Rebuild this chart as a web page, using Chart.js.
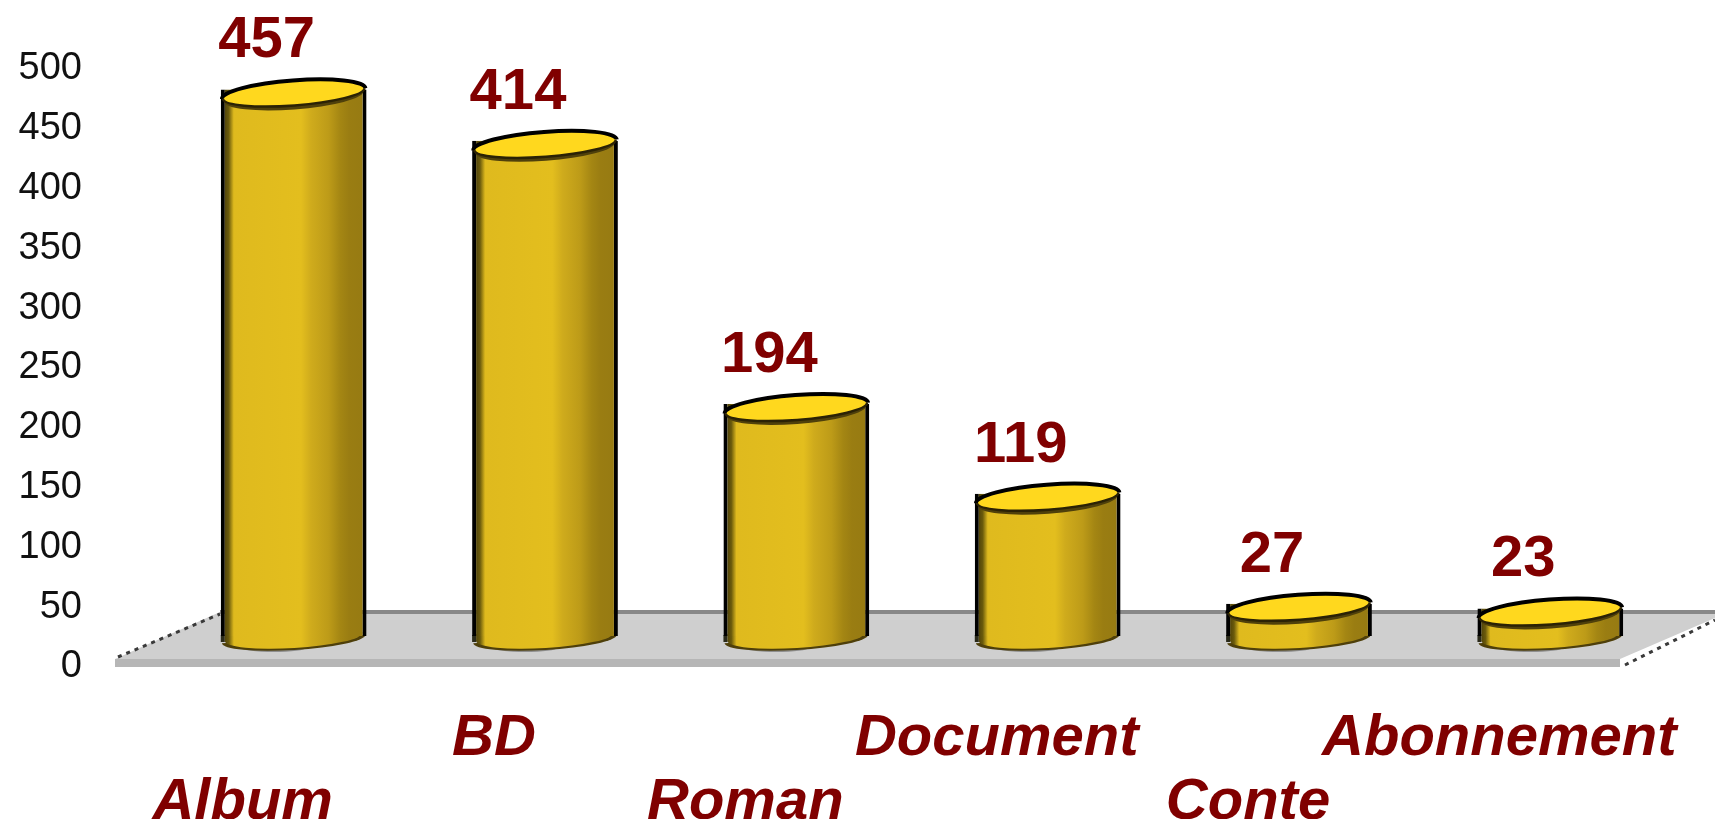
<!DOCTYPE html>
<html>
<head>
<meta charset="utf-8">
<title>Chart</title>
<script src="https://cdn.jsdelivr.net/npm/chart.js@4"></script>
<style>
  html, body { margin: 0; padding: 0; background: #fff; overflow: hidden; }
  canvas { display: block; }
</style>
</head>
<body>
<canvas id="chart" width="1715" height="819"></canvas>
<script>
// Staggered category labels, the empty line pushes every other one down
const categories = [
  ['', 'Album'],
  ['BD', ''],
  ['', 'Roman'],
  ['Document', ''],
  ['', 'Conte'],
  ['Abonnement', ''],
];
const values = [457, 414, 194, 119, 27, 23];
const tickValues = [0, 50, 100, 150, 200, 250, 300, 350, 400, 450, 500];

// Fake 3D look: bars sit on a floor that is pushed back from the axis
const depthX = 51;
const depthY = -31;
const darkRed = '#800000';

function bodyGradient(ctx, left, right) {
  const g = ctx.createLinearGradient(left, 0, right, 0);
  g.addColorStop(0, '#3a2f06');
  g.addColorStop(0.055, '#6a5a0c');
  g.addColorStop(0.09, '#dfba1e');
  g.addColorStop(0.55, '#e3be1e');
  g.addColorStop(0.62, '#cfab1c');
  g.addColorStop(0.74, '#bd9b18');
  g.addColorStop(0.82, '#a48613');
  g.addColorStop(0.88, '#9a7d12');
  g.addColorStop(1, '#967a12');
  return g;
}

const cylinderPlugin = {
  id: 'cylinders',
  beforeDatasetsDraw(chart) {
    // floor
    const ctx = chart.ctx;
    const area = chart.chartArea;
    const y0 = chart.scales.y.getPixelForValue(0);
    const left = area.left - 2;
    const right = area.right - 5;
    const back = y0 - 55;
    const front = y0 - 8;
    ctx.save();
    ctx.fillStyle = '#cfcfcf';
    ctx.beginPath();
    ctx.moveTo(left, front);
    ctx.lineTo(left + 105, back);
    ctx.lineTo(chart.width, back);
    ctx.lineTo(chart.width, back + 6);
    ctx.lineTo(right, front);
    ctx.closePath();
    ctx.fill();
    ctx.fillStyle = '#b6b6b6';
    ctx.fillRect(left, front, right - left, 8);
    ctx.fillStyle = '#888888';
    ctx.fillRect(left + 105, back - 2, chart.width - left - 105, 4);
    ctx.strokeStyle = '#3a3a3a';
    ctx.lineWidth = 3;
    ctx.setLineDash([4, 5]);
    ctx.beginPath();
    ctx.moveTo(left + 3, front - 2);
    ctx.lineTo(left + 105, back + 2);
    ctx.moveTo(right + 5, front + 6);
    ctx.lineTo(chart.width, back + 8);
    ctx.stroke();
    ctx.restore();
  },
  beforeDatasetDraw(chart, args) {
    const ctx = chart.ctx;
    ctx.save();
    ctx.translate(depthX, depthY);
    // rounded foot of each cylinder goes under the bar rectangle
    args.meta.data.forEach((bar) => {
      const rx = bar.width / 2;
      ctx.fillStyle = '#8f8f8f';
      ctx.beginPath();
      ctx.ellipse(bar.x - 20, bar.base + 12, 32, 4, 0, 0, Math.PI * 2);
      ctx.fill();
      ctx.fillStyle = '#4e3f0a';
      ctx.beginPath();
      ctx.ellipse(bar.x, bar.base + 3, rx - 1, 11, -0.06, 0, Math.PI);
      ctx.fill();
      ctx.fillStyle = '#2a2a1a';
      ctx.fillRect(bar.x - rx, bar.base - 1, 4, 7);
      ctx.fillStyle = bodyGradient(ctx, bar.x - rx, bar.x + rx);
      ctx.fillRect(bar.x - rx + 4, bar.base - 2, rx, 7);
      ctx.beginPath();
      ctx.ellipse(bar.x, bar.base + 1, rx - 4, 11, -0.06, 0, Math.PI * 2);
      ctx.fill();
    });
  },
  afterDatasetDraw(chart, args) {
    const ctx = chart.ctx;
    args.meta.data.forEach((bar) => {
      const rx = bar.width / 2;
      const cy = bar.y + 4;
      const tilt = -0.075;
      // dark band under the front rim
      ctx.fillStyle = '#4f400b';
      ctx.beginPath();
      ctx.ellipse(bar.x, cy + 3, rx - 3, 13, tilt, 0, Math.PI);
      ctx.fill();
      ctx.fillStyle = '#ffd81e';
      ctx.beginPath();
      ctx.ellipse(bar.x, cy, rx - 2, 12, tilt, 0, Math.PI * 2);
      ctx.fill();
      ctx.strokeStyle = '#000';
      ctx.lineWidth = 4;
      ctx.beginPath();
      ctx.ellipse(bar.x, cy, rx - 1, 13, tilt, Math.PI, Math.PI * 2);
      ctx.stroke();
      ctx.strokeStyle = '#2b2205';
      ctx.lineWidth = 2.5;
      ctx.beginPath();
      ctx.ellipse(bar.x, cy, rx - 2, 12, tilt, 0, Math.PI);
      ctx.stroke();
    });
    ctx.restore();
  },
  afterDatasetsDraw(chart) {
    // value labels above the bars
    const ctx = chart.ctx;
    ctx.save();
    ctx.font = 'bold 58px "Liberation Sans", Arial, sans-serif';
    ctx.fillStyle = darkRed;
    ctx.textAlign = 'center';
    ctx.textBaseline = 'middle';
    chart.getDatasetMeta(0).data.forEach((bar, i) => {
      ctx.fillText(values[i], bar.x + 24, bar.y - 79);
    });
    ctx.restore();
  },
};

new Chart(document.getElementById('chart').getContext('2d'), {
  type: 'bar',
  data: {
    labels: categories,
    datasets: [
      {
        data: values,
        barPercentage: 0.58,
        categoryPercentage: 1,
        borderColor: '#000',
        borderWidth: { left: 4, right: 4, top: 0, bottom: 0 },
        backgroundColor: (c) => {
          const chart = c.chart;
          if (!chart.chartArea) return '#e3be1e';
          const x = chart.scales.x.getPixelForValue(c.dataIndex);
          return bodyGradient(chart.ctx, x - 73, x + 73);
        },
      },
    ],
  },
  options: {
    responsive: false,
    animation: false,
    layout: { padding: { top: 69, right: 90, left: 0, bottom: 0 } },
    plugins: { legend: { display: false }, tooltip: { enabled: false } },
    scales: {
      x: {
        grid: { display: false, drawTicks: false },
        border: { display: false },
        afterFit: (scale) => {
          scale.height = 152;
          // long last label must not shrink the plot
          scale.paddingRight = 0;
        },
        ticks: {
          autoSkip: false,
          maxRotation: 0,
          minRotation: 0,
          padding: 40,
          color: darkRed,
          font: {
            family: '"Liberation Sans", Arial, sans-serif',
            size: 58,
            weight: 'bold',
            style: 'italic',
            lineHeight: 1.1,
          },
        },
      },
      y: {
        min: 0,
        max: 500,
        afterBuildTicks: (scale) => {
          scale.ticks = tickValues.map((v) => ({ value: v }));
        },
        afterFit: (scale) => { scale.width = 117; },
        grid: { display: false, drawTicks: false },
        border: { display: false },
        ticks: {
          autoSkip: false,
          padding: 35,
          color: '#111',
          font: { family: '"Liberation Sans", Arial, sans-serif', size: 38 },
        },
      },
    },
  },
  plugins: [cylinderPlugin],
});
</script>
</body>
</html>
